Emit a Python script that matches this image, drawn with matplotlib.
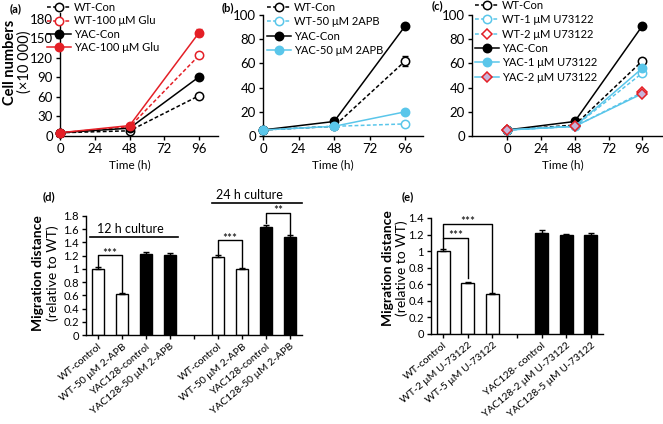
import matplotlib.pyplot as plt
import numpy as np

plt.rcParams['font.family'] = ['Lato', 'DejaVu Sans']

W, H = 663, 424
RED = '#e41f26'
CYAN = '#5ac6ea'
DASH = (0, (2.5, 1.5))

# growth curves (x10 000 cells)
time_h = [0, 48, 96]
a_wt_con = [5, 8, 62]
a_wt_glu = [5, 14, 124]
a_yac_con = [5, 12, 91]
a_yac_glu = [5, 16, 159]
a_err = {'wt_con': [0, 0, 3], 'wt_glu': [0, 0, 3], 'yac_con': [0, 0, 2], 'yac_glu': [0, 0, 6]}

b_wt_con = [5, 8, 62]
b_wt_apb = [5, 8, 10]
b_yac_con = [5, 12, 91]
b_yac_apb = [5, 8, 20]
b_err = {'wt_con': [0, 0, 4], 'wt_apb': [0, 0, 1], 'yac_con': [0, 0, 1], 'yac_apb': [0, 0, 1]}

c_wt_con = [5, 9, 62]
c_wt_u1 = [5, 8, 52]
c_wt_u2 = [5, 8, 36]
c_yac_con = [5, 12, 91]
c_yac_u1 = [5, 8, 56]
c_yac_u2 = [5, 8, 35]

# migration distance (relative to WT)
d_labels = ['WT-control', 'WT-50 μM 2-APB', 'YAC128-control', 'YAC128-50 μM 2-APB']
d_12h = [1.00, 0.62, 1.22, 1.21]
d_12h_err = [0.03, 0.015, 0.03, 0.03]
d_24h = [1.18, 1.00, 1.64, 1.48]
d_24h_err = [0.03, 0.015, 0.03, 0.03]

e_labels_wt = ['WT-control', 'WT-2 μM U-73122', 'WT-5 μM U-73122']
e_labels_yac = ['YAC128- control', 'YAC128-2 μM U-73122', 'YAC128-5 μM U-73122']
e_wt = [1.00, 0.61, 0.48]
e_wt_err = [0.03, 0.015, 0.01]
e_yac = [1.22, 1.19, 1.20]
e_yac_err = [0.03, 0.015, 0.025]

fig = plt.figure(figsize=(W / 100, H / 100), dpi=100)


def px_axes(l, t, r, b):
    return fig.add_axes([l / W, 1 - b / H, (r - l) / W, (b - t) / H])


def style(ax, fs):
    for s in ['top', 'right']:
        ax.spines[s].set_visible(False)
    for s in ['left', 'bottom']:
        ax.spines[s].set_linewidth(1)
    ax.tick_params(direction='out', length=3, width=1, labelsize=fs, pad=2)


def ftext(x, y, s, **kw):
    fig.text(x / W, 1 - y / H, s, **kw)


def curve(ax, y, color, ls, fill, err=None, label=None):
    ax.plot(time_h, y, color=color, ls=ls, lw=1.1, marker='o', ms=6,
            mfc=fill, mec=color, mew=1.1, label=label, clip_on=False, zorder=3)
    if err is not None:
        ax.errorbar(time_h, y, yerr=err, fmt='none', ecolor=color, elinewidth=1,
                    capsize=2.5, capthick=1, clip_on=False, zorder=2)


def leg(ax, x, y, spacing):
    ax.legend(loc='upper left', bbox_to_anchor=(x / W, 1 - y / H),
              bbox_transform=fig.transFigure, frameon=False, fontsize=8,
              borderpad=0, borderaxespad=0, handlelength=2.2,
              handletextpad=0.25, labelspacing=spacing)


# ---- (a)
ax = px_axes(60, 13, 218, 136)
curve(ax, a_wt_con, 'black', DASH, 'white', err=a_err['wt_con'], label='WT-Con')
curve(ax, a_wt_glu, RED, DASH, 'white', err=a_err['wt_glu'], label='WT-100 μM Glu')
curve(ax, a_yac_con, 'black', '-', 'black', err=a_err['yac_con'], label='YAC-Con')
curve(ax, a_yac_glu, RED, '-', RED, err=a_err['yac_glu'], label='YAC-100 μM Glu')
ax.set_xlim(0, 109)
ax.set_ylim(0, 189)
ax.set_yticks(range(0, 181, 30))
ax.set_xticks([0, 24, 48, 72, 96])
style(ax, 9.5)
leg(ax, 47, 2, 0.22)

# ---- (b)
ax = px_axes(263, 15, 423, 136)
curve(ax, b_wt_con, 'black', DASH, 'white', err=b_err['wt_con'], label='WT-Con')
curve(ax, b_wt_apb, CYAN, DASH, 'white', err=b_err['wt_apb'], label='WT-50 μM 2APB')
curve(ax, b_yac_con, 'black', '-', 'black', err=b_err['yac_con'], label='YAC-Con')
curve(ax, b_yac_apb, CYAN, '-', CYAN, err=b_err['yac_apb'], label='YAC-50 μM 2APB')
ax.set_xlim(0, 108)
ax.set_ylim(0, 100)
ax.set_yticks(range(0, 101, 20))
ax.set_xticks([0, 24, 48, 72, 96])
style(ax, 9.5)
leg(ax, 267, 2, 0.3)

# ---- (c)
ax = px_axes(472, 15, 662, 136)
ax.plot(time_h, c_wt_con, color='black', ls=DASH, lw=1.1, marker='o', ms=6,
        mfc='white', mec='black', mew=1.1, label='WT-Con', zorder=3)
ax.plot(time_h, c_wt_u1, color=CYAN, ls=DASH, lw=1.1, marker='o', ms=6,
        mfc='white', mec=CYAN, mew=1.1, label='WT-1 μM U73122', zorder=3)
ax.plot(time_h, c_wt_u2, color=CYAN, ls=DASH, lw=1.1, marker='D', ms=5,
        mfc='white', mec=RED, mew=1.1, label='WT-2 μM U73122', zorder=3)
ax.plot(time_h, c_yac_con, color='black', ls='-', lw=1.1, marker='o', ms=6,
        mfc='black', mec='black', mew=1.1, label='YAC-Con', zorder=3)
ax.plot(time_h, c_yac_u1, color=CYAN, ls='-', lw=1.1, marker='o', ms=6,
        mfc=CYAN, mec=CYAN, mew=1.1, label='YAC-1 μM U73122', zorder=3)
ax.plot(time_h, c_yac_u2, color=CYAN, ls='-', lw=1.1, marker='D', ms=5,
        mfc='#c7b3d9', mec=RED, mew=1.1, label='YAC-2 μM U73122', zorder=3)
for y, col in [(c_wt_con, 'black'), (c_wt_u1, CYAN), (c_yac_u1, CYAN)]:
    ax.errorbar(time_h, y, yerr=[0, 0, 2], fmt='none', ecolor=col, elinewidth=1,
                capsize=2.5, capthick=1, zorder=2)
ax.set_xlim(-25, 110)
ax.set_ylim(0, 100)
ax.set_yticks(range(0, 101, 20))
ax.set_xticks([0, 24, 48, 72, 96])
style(ax, 9.5)
leg(ax, 475, 0, 0.3)

for x in [130, 333, 563]:
    ftext(x, 165, 'Time (h)', ha='center', va='center', fontsize=8.5)

ftext(10, 62, 'Cell numbers', rotation=90, ha='center', va='center',
      fontsize=10.5, fontweight='bold')
ftext(25, 62, '(×10 000)', rotation=90, ha='center', va='center', fontsize=10.5)

for x, y, s in [(16, 9, '(a)'), (228, 8, '(b)'), (437, 6, '(c)'),
                (49, 197, '(d)'), (408, 197, '(e)')]:
    ftext(x, y, s, ha='center', va='center', fontsize=8, fontweight='bold')


def bars(ax, pos, vals, errs, fill):
    ax.bar(pos, vals, width=0.52, color=fill, edgecolor='black', linewidth=1,
           yerr=[np.zeros(len(vals)), errs],
           error_kw=dict(capsize=2, elinewidth=1, capthick=1, ecolor='black'),
           zorder=2)


def bracket(ax, x0, y0, x1, y1, yh, stars, dy):
    ax.plot([x0, x0, x1, x1], [y0, yh, yh, y1], color='black', lw=1,
            clip_on=False, zorder=3)
    ax.text((x0 + x1) / 2, yh + dy, stars, ha='center', va='center',
            fontsize=8.5)


# ---- (d)
ax = px_axes(86, 216, 302, 335)
bars(ax, [0, 1], d_12h[:2], d_12h_err[:2], 'white')
bars(ax, [2, 3], d_12h[2:], d_12h_err[2:], 'black')
bars(ax, [5, 6], d_24h[:2], d_24h_err[:2], 'white')
bars(ax, [7, 8], d_24h[2:], d_24h_err[2:], 'black')
ax.set_xlim(-0.5, 8.5)
ax.set_ylim(0, 1.8)
yt = np.arange(0, 1.81, 0.2)
ax.set_yticks(yt)
ax.set_yticklabels(['%g' % round(v, 1) for v in yt])
ax.set_xticks(range(9))
ax.set_xticklabels(d_labels + [''] + d_labels, rotation=40, ha='right',
                   rotation_mode='anchor')
style(ax, 8)
ax.tick_params(axis='x', labelsize=7.5)
bracket(ax, 0, 1.05, 1, 0.65, 1.21, '***', 0.03)
bracket(ax, 5, 1.23, 6, 1.03, 1.43, '***', 0.03)
bracket(ax, 7, 1.69, 8, 1.53, 1.85, '**', 0.03)
ax.plot([-0.33, 3.33], [1.48, 1.48], color='black', lw=1.2, clip_on=False)
ax.text(1.33, 1.6, '12 h culture', ha='center', va='center', fontsize=9)
ax.plot([4.75, 8.5], [2.0, 2.0], color='black', lw=1.2, clip_on=False)
ax.text(6.33, 2.12, '24 h culture', ha='center', va='center', fontsize=9)

ftext(38, 273, 'Migration distance', rotation=90, ha='center', va='center',
      fontsize=10, fontweight='bold')
ftext(53, 273, '(relative to WT)', rotation=90, ha='center', va='center', fontsize=10)

# ---- (e)
ax = px_axes(431, 218, 603, 334)
bars(ax, [0, 1, 2], e_wt, e_wt_err, 'white')
bars(ax, [4, 5, 6], e_yac, e_yac_err, 'black')
ax.set_xlim(-0.5, 6.5)
ax.set_ylim(0, 1.4)
yt = np.arange(0, 1.41, 0.2)
ax.set_yticks(yt)
ax.set_yticklabels(['%g' % round(v, 1) for v in yt])
ax.set_xticks(range(7))
ax.set_xticklabels(e_labels_wt + [''] + e_labels_yac, rotation=40, ha='right',
                   rotation_mode='anchor')
style(ax, 8)
ax.tick_params(axis='x', labelsize=7.5)
bracket(ax, 0, 1.04, 1, 0.67, 1.16, '***', 0.03)
bracket(ax, 0, 1.16, 2, 0.51, 1.33, '***', 0.03)

ftext(388, 268, 'Migration distance', rotation=90, ha='center', va='center',
      fontsize=10, fontweight='bold')
ftext(402, 268, '(relative to WT)', rotation=90, ha='center', va='center', fontsize=10)

fig.savefig('out.png', dpi=100)
